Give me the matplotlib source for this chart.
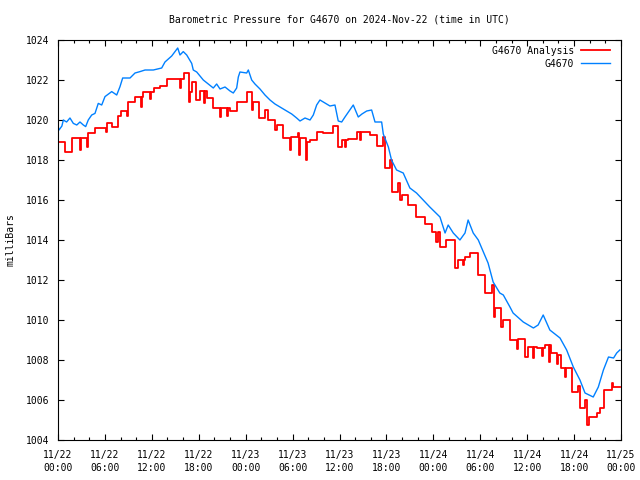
import matplotlib
matplotlib.use('Agg')
import matplotlib.pyplot as plt
from matplotlib.ticker import MultipleLocator

# hours since 2024-11-22 00:00 UTC
stationHours = [0.0, 0.13, 0.5, 0.68, 1.1, 1.53, 1.96, 2.4, 2.81, 3.24, 3.54, 3.87, 4.31,
                4.73, 5.15, 5.59, 6.01, 6.87, 7.51, 7.93, 8.27, 9.21, 9.85, 10.49, 11.13,
                12.19, 13.26, 13.68, 14.54, 15.31, 15.6, 16.02, 16.46, 17.1, 17.3, 17.74,
                18.58, 19.22, 19.86, 20.29, 20.72, 21.36, 22.0, 22.42, 22.85, 23.06,
                23.27, 24.13, 24.34, 24.77, 25.19, 25.83, 26.47, 27.11, 27.75, 28.39,
                29.03, 29.89, 30.52, 30.95, 31.59, 32.23, 32.65, 33.08, 33.5, 34.14,
                34.78, 35.42, 35.84, 36.28, 36.7, 37.76, 38.4, 38.87, 39.48, 40.11,
                40.54, 41.39, 41.6, 42.25, 42.65, 43.3, 44.15, 45.0, 45.85, 46.7,
                47.55, 48.85, 49.5, 49.9, 50.55, 51.4, 52.05, 52.45, 53.1, 53.75, 54.4,
                55.0, 55.65, 56.5, 56.95, 57.8, 58.2, 59.5, 60.8, 61.4, 62.05, 62.9,
                64.2, 65.05, 65.9, 66.75, 67.4, 68.45, 69.1, 69.75, 70.4, 71.05, 71.45,
                71.85]
stationPressure = [1019.7, 1019.5, 1019.7, 1020.0, 1019.9, 1020.1, 1019.83, 1019.75,
                   1019.9, 1019.75, 1019.67, 1020.0, 1020.25, 1020.33, 1020.83, 1020.75,
                   1021.17, 1021.42, 1021.25, 1021.67, 1022.1, 1022.1, 1022.35, 1022.42,
                   1022.5, 1022.5, 1022.6, 1022.9, 1023.2, 1023.6, 1023.25, 1023.42,
                   1023.25, 1022.83, 1022.5, 1022.4, 1022.0, 1021.8, 1021.6, 1021.8,
                   1021.55, 1021.65, 1021.45, 1021.35, 1021.6, 1022.15, 1022.4, 1022.35,
                   1022.5, 1022.0, 1021.8, 1021.55, 1021.25, 1021.0, 1020.8, 1020.65,
                   1020.5, 1020.3, 1020.1, 1019.95, 1020.1, 1020.0, 1020.25, 1020.75,
                   1021.0, 1020.85, 1020.7, 1020.75, 1019.95, 1019.9, 1020.15, 1020.75,
                   1020.15, 1020.3, 1020.45, 1020.5, 1019.9, 1019.9, 1019.3, 1018.65,
                   1018.0, 1017.5, 1017.35, 1016.6, 1016.35, 1016.0, 1015.65, 1015.15,
                   1014.35, 1014.75, 1014.35, 1014.0, 1014.35, 1015.0, 1014.35, 1014.0,
                   1013.4, 1012.85, 1011.9, 1011.35, 1011.25, 1010.65, 1010.35, 1009.9,
                   1009.6, 1009.75, 1010.25, 1009.5, 1009.1, 1008.5, 1007.65, 1007.0,
                   1006.35, 1006.15, 1006.65, 1007.5, 1008.15, 1008.1, 1008.35, 1008.5]

# analysis is a step series (short entries are the dips at the changeovers)
analysisHours = [0.0, 0.9, 1.8, 2.8, 2.95, 3.7, 3.85, 4.7, 6.1, 6.25, 6.9, 7.7, 8.0, 8.8,
                 8.95, 9.85, 10.6, 10.75, 10.9, 11.75, 11.9, 12.3, 13.0, 14.0, 15.6, 15.75,
                 16.1, 16.75, 16.9, 17.1, 17.65, 18.2, 18.7, 18.85, 19.0, 19.85, 20.7,
                 20.85, 21.6, 21.75, 22.0, 22.85, 24.2, 24.85, 25.0, 25.7, 26.5, 26.85,
                 27.75, 27.95, 28.8, 29.7, 29.85, 30.7, 30.85, 31.0, 31.7, 31.85, 32.2,
                 33.1, 33.9, 35.2, 35.85, 36.3, 36.7, 36.85, 37.1, 38.2, 38.6, 38.75,
                 39.9, 40.75, 41.5, 41.8, 42.5, 42.75, 43.5, 43.8, 43.95, 44.8, 45.8,
                 46.9, 47.8, 48.4, 48.55, 48.85, 49.6, 50.8, 51.2, 51.75, 51.9, 52.0,
                 52.7, 53.75, 54.6, 55.5, 55.7, 55.85, 56.7, 56.85, 57.8, 58.7, 58.85,
                 59.7, 60.1, 60.7, 60.85, 61.2, 61.85, 62.0, 62.3, 62.8, 62.95, 63.1,
                 63.85, 64.0, 64.3, 64.8, 64.95, 65.7, 66.5, 66.75, 67.4, 67.7, 67.85,
                 68.9, 69.3, 69.8, 70.8, 70.95, 71.9]
analysisPressure = [1018.9, 1018.4, 1019.1, 1018.5, 1019.1, 1018.65, 1019.35, 1019.6,
                    1019.4, 1019.85, 1019.65, 1020.2, 1020.45, 1020.2, 1020.9, 1021.15,
                    1020.65, 1021.15, 1021.4, 1021.05, 1021.4, 1021.6, 1021.7, 1022.05,
                    1021.6, 1022.05, 1022.35, 1020.9, 1021.4, 1021.9, 1021.0, 1021.45,
                    1020.85, 1021.45, 1021.1, 1020.6, 1020.15, 1020.6, 1020.2, 1020.6,
                    1020.45, 1020.9, 1021.4, 1020.5, 1020.9, 1020.1, 1020.5, 1020.0,
                    1019.5, 1019.75, 1019.1, 1018.5, 1019.15, 1019.35, 1018.25, 1019.1,
                    1018.0, 1018.9, 1019.0, 1019.4, 1019.35, 1019.7, 1018.65, 1019.0,
                    1018.65, 1019.0, 1019.05, 1019.4, 1019.0, 1019.4, 1019.25, 1018.7,
                    1019.15, 1017.6, 1018.0, 1016.4, 1016.85, 1016.0, 1016.25, 1015.75,
                    1015.15, 1014.8, 1014.4, 1013.9, 1014.4, 1013.65, 1014.0, 1012.6,
                    1013.0, 1012.75, 1013.0, 1013.15, 1013.35, 1012.25, 1011.35, 1011.75,
                    1010.15, 1010.6, 1009.65, 1010.0, 1009.0, 1008.55, 1009.05, 1008.15,
                    1008.65, 1008.1, 1008.65, 1008.6, 1008.2, 1008.6, 1008.75, 1007.9,
                    1008.75, 1008.35, 1007.8, 1008.25, 1007.6, 1007.15, 1007.6, 1006.4,
                    1006.7, 1005.6, 1006.0, 1004.75, 1005.15, 1005.35, 1005.6, 1006.5,
                    1006.85, 1006.65, 1006.65]

xTickHours = [0, 6, 12, 18, 24, 30, 36, 42, 48, 54, 60, 66, 72]
xTickLabels = ['11/22\n00:00', '11/22\n06:00', '11/22\n12:00', '11/22\n18:00',
               '11/23\n00:00', '11/23\n06:00', '11/23\n12:00', '11/23\n18:00',
               '11/24\n00:00', '11/24\n06:00', '11/24\n12:00', '11/24\n18:00',
               '11/25\n00:00']

plt.rcParams['font.family'] = ['DejaVu Sans Mono']
plt.rcParams['font.size'] = 7

fig = plt.figure(figsize=(6.4, 4.8), dpi=100)
ax = fig.add_axes([58/640, 40/480, 563/640, 400/480])

ax.plot(analysisHours, analysisPressure, color='#ff0000', lw=1.3,
        drawstyle='steps-post', label='G4670 Analysis')
ax.plot(stationHours, stationPressure, color='#0080ff', lw=1.0, label='G4670')

ax.set_xlim(0, 72)
ax.set_ylim(1004, 1024)
ax.set_xticks(xTickHours)
ax.set_xticklabels(xTickLabels, linespacing=1.45)
ax.xaxis.set_minor_locator(MultipleLocator(2))
ax.yaxis.set_major_locator(MultipleLocator(2))
ax.tick_params(which='both', direction='in', top=True, right=True, width=0.8)
ax.tick_params(which='major', length=4.5)
ax.tick_params(which='minor', length=2.5)
ax.tick_params(axis='x', pad=7)
ax.tick_params(axis='y', pad=6)
for sp in ax.spines.values():
    sp.set_linewidth(0.8)

ax.set_ylabel('milliBars', labelpad=8)
fig.text(0.5 * (58 + 621) / 640, 1 - 20/480, 'Barometric Pressure for G4670 on 2024-Nov-22 (time in UTC)',
         ha='center', va='center')

ax.legend(loc='upper right', bbox_to_anchor=(1 - 4/563, 1 + 1/400), frameon=False,
          markerfirst=False, handlelength=3.0, handletextpad=0.7, labelspacing=0.3,
          borderaxespad=0.3)

fig.savefig('out.png', dpi=100)
